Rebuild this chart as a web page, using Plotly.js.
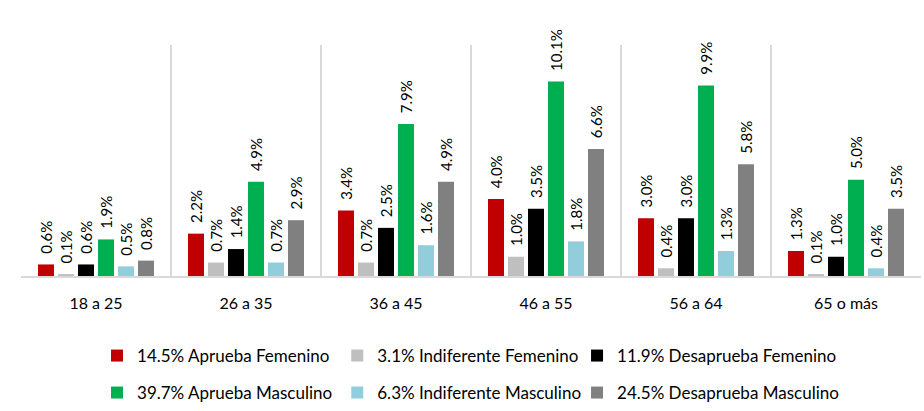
<!DOCTYPE html>
<html>
<head>
<meta charset="utf-8">
<script src="https://cdn.plot.ly/plotly-3.0.1.min.js"></script>
<style>html,body{margin:0;padding:0;background:#fff;}#chart{width:924px;height:411px;}</style>
</head>
<body>
<div id="chart"></div>
<script>
const categories = ["18 a 25", "26 a 35", "36 a 45", "46 a 55", "56 a 64", "65 o más"];
const seriesNames = ["14.5% Aprueba Femenino", "3.1% Indiferente Femenino", "11.9% Desaprueba Femenino",
                     "39.7% Aprueba Masculino", "6.3% Indiferente Masculino", "24.5% Desaprueba Masculino"];
const apruebaFem = [0.6, 2.2, 3.4, 4.0, 3.0, 1.3];
const indiferenteFem = [0.1, 0.7, 0.7, 1.0, 0.4, 0.1];
const desapruebaFem = [0.6, 1.4, 2.5, 3.5, 3.0, 1.0];
const apruebaMasc = [1.9, 4.9, 7.9, 10.1, 9.9, 5.0];
const indiferenteMasc = [0.5, 0.7, 1.6, 1.8, 1.3, 0.4];
const desapruebaMasc = [0.8, 2.9, 4.9, 6.6, 5.8, 3.5];
const colors = ["#C00000", "#BFBFBF", "#000000", "#00B050", "#92CDDC", "#808080"];

const values = [apruebaFem, indiferenteFem, desapruebaFem, apruebaMasc, indiferenteMasc, desapruebaMasc];
const FONT = "Lato, 'Open Sans', sans-serif";
const legendIds = ["legend", "legend2", "legend3", "legend4", "legend5", "legend6"];

const traces = values.map((v, i) => ({
  type: "bar",
  name: seriesNames[i],
  legend: legendIds[i],
  x: categories,
  y: v,
  marker: {color: colors[i]},
  texttemplate: "  %{y:.1f}%",
  textposition: "outside",
  textangle: -90,
  constraintext: "none",
  textfont: {family: FONT, size: 15, color: "#000"},
  cliponaxis: false,
  hoverinfo: "skip"
}));

const colX = [0.105, 0.365, 0.6245];
const rowY = [0.1338, 0.0438];

const layout = {
  width: 924, height: 411,
  margin: {l: 21, r: 3, t: 45, b: 135, autoexpand: false},
  paper_bgcolor: "#fff", plot_bgcolor: "#fff",
  barmode: "group",
  bargap: 0.2,
  bargroupgap: 0.2,
  font: {family: FONT, color: "#000"},
  xaxis: {
    type: "category",
    tickson: "boundaries",
    showgrid: true, gridcolor: "#D9D9D9", gridwidth: 1.5,
    showline: true, linecolor: "#D9D9D9", linewidth: 1.5,
    ticks: "", ticklen: 0,
    ticklabelstandoff: 12,
    tickfont: {family: FONT, size: 16, color: "#000"},
    fixedrange: true
  },
  yaxis: {
    range: [0, 12],
    showgrid: false, zeroline: false, showticklabels: false, showline: false,
    fixedrange: true
  },
  showlegend: true
};

legendIds.forEach((id, i) => {
  layout[id] = {
    orientation: "h",
    xref: "container", yref: "container",
    x: colX[i % 3], xanchor: "left",
    y: rowY[Math.floor(i / 3)], yanchor: "middle",
    font: {family: FONT, size: 17, color: "#000"},
    bgcolor: "rgba(0,0,0,0)"
  };
});

Plotly.newPlot("chart", traces, layout, {displayModeBar: false, staticPlot: true});
</script>
</body>
</html>
